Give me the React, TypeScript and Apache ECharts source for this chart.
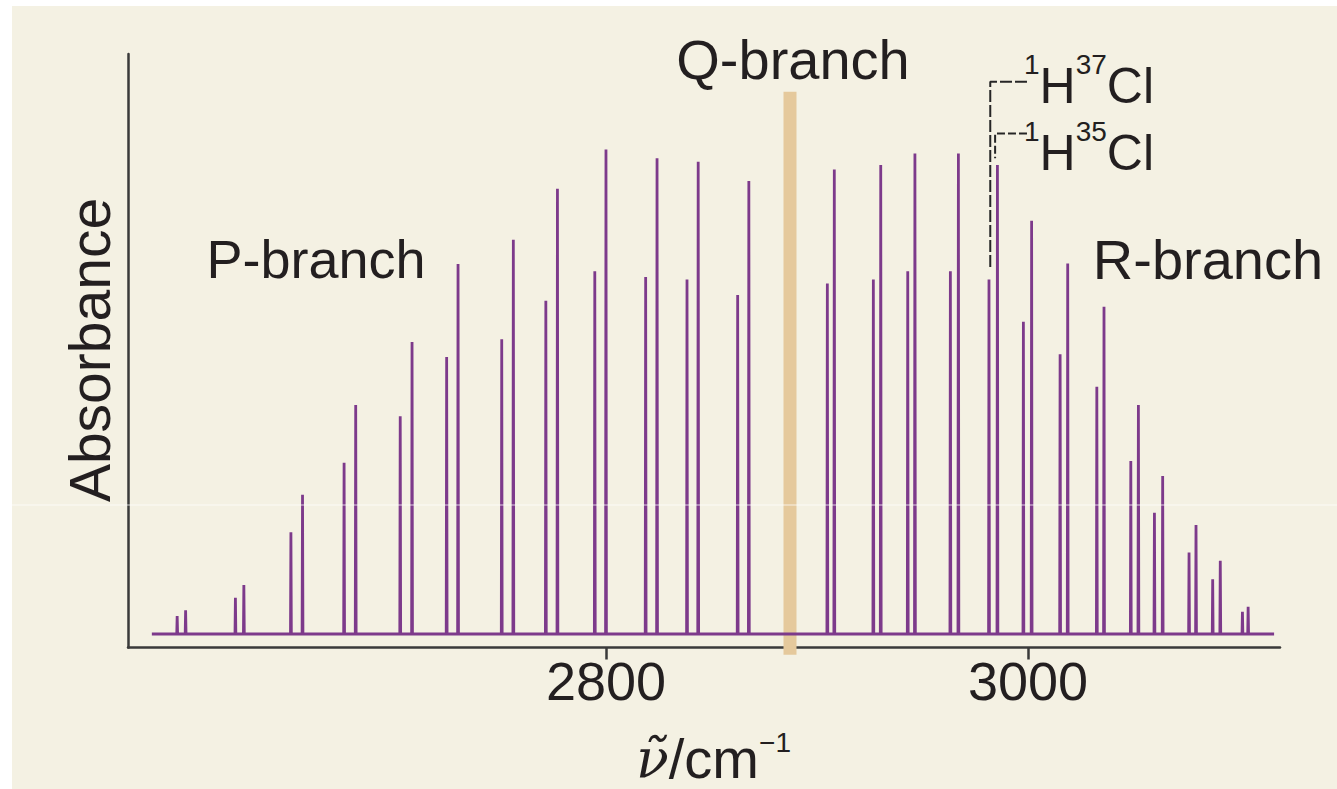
import React, { useEffect, useRef } from "react";
import * as echarts from "echarts";

// Wavenumber axis range (cm^-1) and absorbance axis range (arbitrary units)
const X_MIN = 2573.5;
const X_MAX = 3119.4;
const Y_MIN = -2.78;
const Y_MAX = 119.6;
const X_TICKS = [2800, 3000];

// Baseline extent of the recorded spectrum
const SPECTRUM_START = 2584.8;
const SPECTRUM_END = 3116.6;

// 1H37Cl lines (lower wavenumber member of each pair)
const ISO37_WAVENUMBER = [
  2596.8, 2624.4, 2650.7, 2675.9, 2702.5, 2724.5, 2750.6, 2771.5, 2794.7, 2818.8,
  2838.4, 2862.4, 2904.9, 2926.7, 2943.0, 2963.2, 2981.5, 2997.8, 3015.2, 3032.6,
  3048.7, 3059.9, 3076.3, 3087.5, 3101.6,
];
const ISO37_ABS = [
  3.7, 7.5, 21.0, 35.3, 44.9, 57.1, 60.8, 68.7, 74.8, 73.6, 73.1, 69.9, 72.3, 73.1,
  74.8, 74.8, 73.1, 64.4, 57.7, 51.0, 35.7, 25.0, 16.8, 11.3, 4.6,
];

// 1H35Cl lines
const ISO35_WAVENUMBER = [
  2600.8, 2628.4, 2656.2, 2681.4, 2708.1, 2729.9, 2756.1, 2777.0, 2800.0, 2824.2,
  2843.7, 2867.7, 2908.2, 2930.2, 2946.4, 2967.0, 2985.5, 3001.7, 3018.8, 3036.0,
  3052.3, 3063.8, 3079.6, 3091.1, 3104.3,
];
const ISO35_ABS = [
  4.9, 10.1, 28.7, 47.2, 60.2, 76.3, 81.3, 91.8, 99.9, 98.1, 97.4, 93.4, 95.8, 96.7,
  99.1, 99.1, 96.7, 85.2, 76.4, 67.5, 47.2, 32.6, 22.5, 15.1, 5.6,
];

// Q-branch (missing) position marker
const Q_CENTER = 2887.2;
const Q_TOP = 111.8;
const Q_BOTTOM = -4.3;

// Isotope label leader lines (data coordinates)
const LEADER_37: [number, number][] = [
  [2999.5, 113.9],
  [2982.1, 113.9],
  [2982.1, 75.1],
];
const LEADER_35: [number, number][] = [
  [2999.5, 103.2],
  [2984.4, 103.2],
  [2984.4, 98.1],
];

const LINE_HALF_WIDTH = 0.2;

function buildSpectrum(): [number, number][] {
  const peaks: [number, number][] = [];
  ISO37_WAVENUMBER.forEach((w, i) => peaks.push([w, ISO37_ABS[i]]));
  ISO35_WAVENUMBER.forEach((w, i) => peaks.push([w, ISO35_ABS[i]]));
  peaks.sort((a, b) => a[0] - b[0]);
  const pts: [number, number][] = [[SPECTRUM_START, 0]];
  for (const [w, h] of peaks) {
    pts.push([w - LINE_HALF_WIDTH, 0]);
    pts.push([w, h]);
    pts.push([w + LINE_HALF_WIDTH, 0]);
  }
  pts.push([SPECTRUM_END, 0]);
  return pts;
}

const SANS = "'Liberation Sans', Arial, Helvetica, sans-serif";
const INK = "#231f20";
const AXIS = "#3a3a3a";
const PURPLE = "#7d3a8b";
const LEADER = "#262626";

export default function App() {
  const ref = useRef<HTMLDivElement>(null);
  useEffect(() => {
    if (!ref.current) return;
    const chart = echarts.init(ref.current, null, { renderer: "svg" });
    const isoRich = {
      s: { fontSize: 28, fontFamily: SANS, fill: INK, color: INK, verticalAlign: "top" },
      m: { fontSize: 50, fontFamily: SANS, fill: INK, color: INK, lineHeight: 72 },
    };
    chart.setOption({
      animation: false,
      backgroundColor: "#ffffff",
      grid: {
        left: 128,
        right: 57,
        top: 54,
        bottom: 141.5,
        containLabel: false,
        outerBoundsMode: "none",
      },
      xAxis: {
        type: "value",
        min: X_MIN,
        max: X_MAX,
        axisLine: { show: true, onZero: false, lineStyle: { color: AXIS, width: 2.5 } },
        axisTick: {
          show: true,
          customValues: X_TICKS,
          length: 12,
          lineStyle: { color: AXIS, width: 2.5 },
        },
        axisLabel: {
          customValues: X_TICKS,
          formatter: (v: number) => String(Math.round(v)),
          fontSize: 54,
          color: INK,
          fontFamily: SANS,
          margin: 6,
        },
        splitLine: { show: false },
      },
      yAxis: {
        type: "value",
        min: Y_MIN,
        max: Y_MAX,
        axisLine: { show: true, onZero: false, lineStyle: { color: AXIS, width: 2.5 } },
        axisTick: { show: false },
        axisLabel: { show: false },
        splitLine: { show: false },
      },
      graphic: [
        {
          type: "rect",
          silent: true,
          z: -10,
          shape: { x: 12, y: 6, width: 1325, height: 783 },
          style: { fill: "#f4f1e3" },
        },
        {
          type: "text",
          silent: true,
          x: 316,
          y: 259,
          style: {
            text: "P-branch",
            fontSize: 54,
            fontFamily: SANS,
            fill: INK,
            align: "center",
            verticalAlign: "middle",
          },
        },
        {
          type: "text",
          silent: true,
          x: 793,
          y: 59.5,
          style: {
            text: "Q-branch",
            fontSize: 56,
            fontFamily: SANS,
            fill: INK,
            align: "center",
            verticalAlign: "middle",
          },
        },
        {
          type: "text",
          silent: true,
          x: 1208,
          y: 259,
          style: {
            text: "R-branch",
            fontSize: 56,
            fontFamily: SANS,
            fill: INK,
            align: "center",
            verticalAlign: "middle",
          },
        },
        {
          type: "text",
          silent: true,
          x: 1024,
          y: 86,
          style: {
            text: "{s|1}{m|H}{s|37}{m|Cl}",
            rich: isoRich,
            fill: INK,
            align: "left",
            verticalAlign: "middle",
          },
        },
        {
          type: "text",
          silent: true,
          x: 1024,
          y: 153,
          style: {
            text: "{s|1}{m|H}{s|35}{m|Cl}",
            rich: isoRich,
            fill: INK,
            align: "left",
            verticalAlign: "middle",
          },
        },
        {
          type: "text",
          silent: true,
          x: 90,
          y: 350,
          rotation: Math.PI / 2,
          style: {
            text: "Absorbance",
            fontSize: 57,
            fontFamily: SANS,
            fill: INK,
            align: "center",
            verticalAlign: "middle",
          },
        },
        {
          type: "text",
          silent: true,
          x: 636,
          y: 758,
          style: {
            text: "{n|ν̃}{m|/cm}{s|−1}",
            rich: {
              n: {
                fontSize: 54,
                fontFamily: "'DejaVu Serif', serif",
                fontStyle: "italic",
                fill: INK,
                color: INK,
              },
              m: { fontSize: 56, fontFamily: SANS, fill: INK, color: INK, lineHeight: 60 },
              s: { fontSize: 28, fontFamily: SANS, fill: INK, color: INK, verticalAlign: "top" },
            },
            fill: INK,
            align: "left",
            verticalAlign: "middle",
          },
        },
        {
          type: "line",
          silent: true,
          z: 100,
          shape: { x1: 12, y1: 505, x2: 1337, y2: 505 },
          style: { stroke: "rgba(255,255,255,0.75)", lineWidth: 1 },
        },
      ],
      series: [
        {
          type: "line",
          name: "Q-branch",
          data: [
            [Q_CENTER, Q_BOTTOM],
            [Q_CENTER, Q_TOP],
          ],
          clip: false,
          symbol: "none",
          z: 1,
          lineStyle: { color: "#e5c99c", width: 13, cap: "butt" },
          silent: true,
        },
        {
          type: "line",
          name: "spectrum",
          data: buildSpectrum(),
          symbol: "none",
          z: 3,
          lineStyle: { color: PURPLE, width: 2.8, join: "bevel" },
          silent: true,
        },
        {
          type: "line",
          name: "1H37Cl leader",
          data: LEADER_37,
          symbol: "none",
          clip: false,
          z: 4,
          lineStyle: { color: LEADER, width: 2, type: [12, 3] },
          silent: true,
        },
        {
          type: "line",
          name: "1H35Cl leader",
          data: LEADER_35,
          symbol: "none",
          clip: false,
          z: 4,
          lineStyle: { color: LEADER, width: 2, type: [8, 3] },
          silent: true,
        },
      ],
    });
    return () => chart.dispose();
  }, []);
  return (
    <div
      ref={ref}
      style={{ position: "fixed", left: 0, top: 0, width: 1337, height: 789 }}
    />
  );
}
